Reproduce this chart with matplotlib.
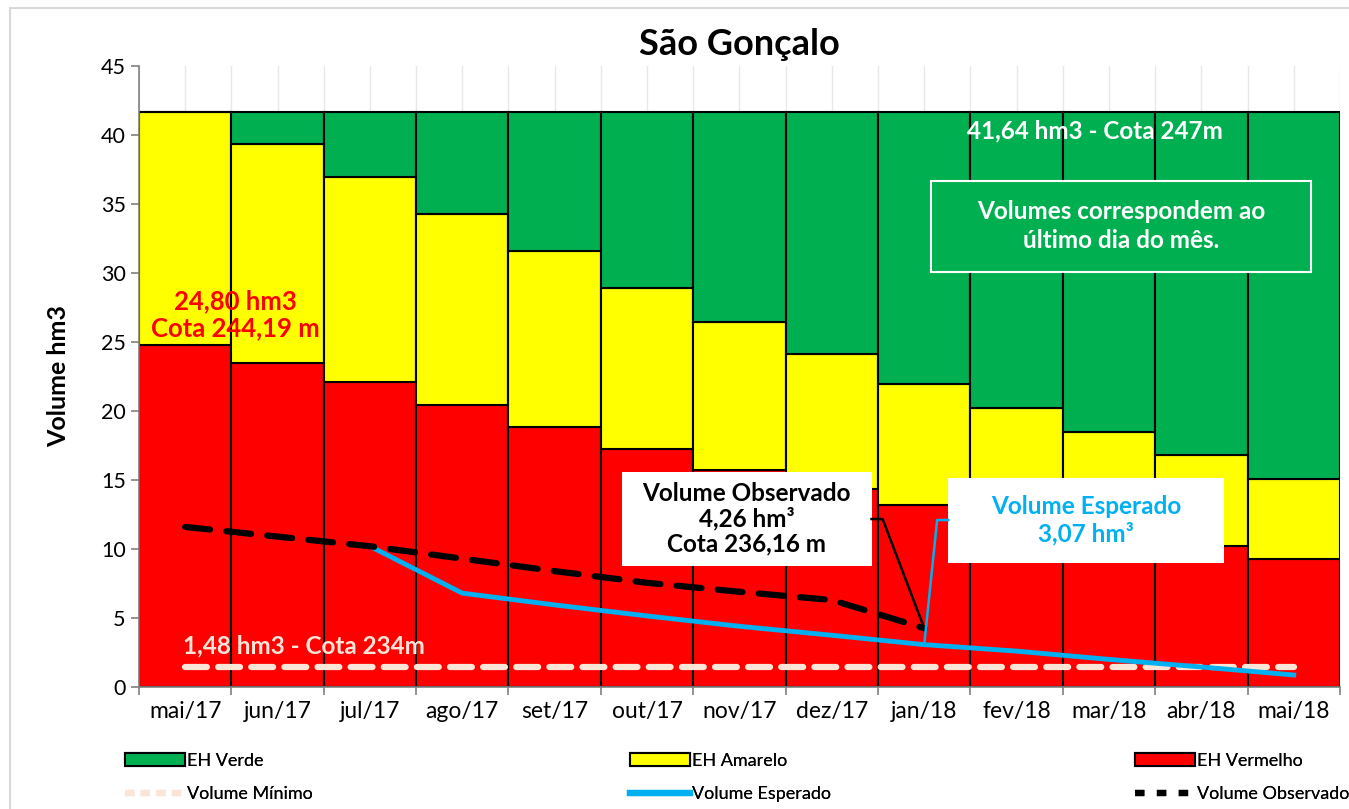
import numpy as np
import matplotlib
matplotlib.use("Agg")
import matplotlib.pyplot as plt
from matplotlib.patches import Patch, Rectangle
from matplotlib.lines import Line2D

plt.rcParams['font.family'] = ['Lato', 'DejaVu Sans']

meses = ['mai/17', 'jun/17', 'jul/17', 'ago/17', 'set/17', 'out/17', 'nov/17',
         'dez/17', 'jan/18', 'fev/18', 'mar/18', 'abr/18', 'mai/18']
eh_vermelho = [24.80, 23.45, 22.10, 20.40, 18.85, 17.25, 15.70, 14.35, 13.20, 12.10, 11.10, 10.25, 9.30]
eh_amarelo_topo = [41.64, 39.35, 36.95, 34.25, 31.60, 28.95, 26.45, 24.10, 21.95, 20.20, 18.45, 16.80, 15.05]
volume_max = 41.64
volume_minimo = [1.48] * 13
volume_esperado = [np.nan, np.nan, 10.20, 6.80, 5.95, 5.15, 4.40, 3.75, 3.07, 2.60, 2.00, 1.45, 0.87]
volume_observado = [11.60, 10.90, 10.20, 9.30, 8.40, 7.55, 6.90, 6.30, 4.26,
                    np.nan, np.nan, np.nan, np.nan]

verde = '#00B050'
amarelo = '#FFFF00'
vermelho = '#FF0000'
azul = '#00B0F0'
creme = '#FBE5D6'

x = np.arange(len(meses))
vermelho_arr = np.array(eh_vermelho)
amarelo_arr = np.array(eh_amarelo_topo) - vermelho_arr
verde_arr = volume_max - np.array(eh_amarelo_topo)

fig = plt.figure(figsize=(13.49, 8.09), dpi=100)
ax = fig.add_axes([0.103, 0.1508, 0.8903, 0.7676])

# moldura da área do gráfico
fig.patches.append(Rectangle((0.0075, -0.01), 1.0, 1.0, transform=fig.transFigure,
                             fill=False, edgecolor='#D9D9D9', lw=1.5))

ax.bar(x, vermelho_arr, width=1, color=vermelho, edgecolor='black', lw=1.5, zorder=2)
ax.bar(x, amarelo_arr, width=1, bottom=vermelho_arr, color=amarelo, edgecolor='black', lw=1.5, zorder=2)
ax.bar(x, verde_arr, width=1, bottom=np.array(eh_amarelo_topo), color=verde, edgecolor='black', lw=1.5, zorder=2)

ax.plot(x, volume_minimo, color=creme, lw=4.5, dashes=(3.5, 1.8), dash_capstyle='round', zorder=4)
ax.plot(x, volume_esperado, color=azul, lw=3.5, zorder=4)
ax.plot(x, volume_observado, color='black', lw=4.5, dashes=(4, 2.6), dash_capstyle='round', zorder=5)

ax.set_xlim(-0.5, len(meses) - 0.5)
ax.set_ylim(0, 45)
ax.set_yticks(range(0, 46, 5))
ax.set_xticks(x)
ax.set_xticklabels(meses, fontsize=16.5)
ax.set_xticks(np.arange(-0.5, len(meses), 1), minor=True)
ax.tick_params(axis='x', which='major', length=0, pad=10)
ax.tick_params(axis='x', which='minor', length=6, color='#808080', width=1.2)
ax.tick_params(axis='y', labelsize=15.5, length=6, color='#808080', width=1.2)
for s in ['top', 'right']:
    ax.spines[s].set_visible(False)
for s in ['left', 'bottom']:
    ax.spines[s].set_color('#808080')
    ax.spines[s].set_linewidth(1.2)

# linhas de grade leves (visíveis acima das barras)
for gx in np.arange(-0.5, len(meses), 0.5):
    ax.axvline(gx, color='#E8E8E8', lw=1, zorder=0)

ax.set_ylabel('Volume hm3', fontsize=18, fontweight='bold', labelpad=22)
ax.set_title('São Gonçalo', fontsize=26, fontweight='bold', pad=8)

ax.text(0.54, 27.0, '24,80 hm3\nCota 244,19 m', color=vermelho, fontsize=18.5, fontweight='bold',
        ha='center', va='center', linespacing=1.15, zorder=6)
ax.text(9.85, 40.3, '41,64 hm3 - Cota 247m', color='white', fontsize=17.5, fontweight='bold',
        ha='center', va='center', zorder=6)
ax.text(-0.02, 3.0, '1,48 hm3 - Cota 234m', color=creme, fontsize=17.5, fontweight='bold',
        ha='left', va='center', zorder=6)

ax.add_patch(Rectangle((8.07, 30.07), 4.12, 6.6, facecolor=verde, edgecolor='white', lw=1.5, zorder=6))
ax.text(10.13, 33.4, 'Volumes correspondem ao\núltimo dia do mês.', color='white', fontsize=17.5,
        fontweight='bold', ha='center', va='center', linespacing=1.3, zorder=7)

ax.add_patch(Rectangle((4.73, 8.77), 2.70, 6.81, facecolor='white', edgecolor='none', zorder=6))
ax.text(6.08, 12.17, 'Volume Observado\n4,26 hm³\nCota 236,16 m', color='black', fontsize=17.5,
        fontweight='bold', ha='center', va='center', linespacing=1.1, zorder=7)
ax.plot([7.43, 7.55, 8.0], [12.17, 12.17, 4.26], color='black', lw=1.8, zorder=6)

ax.add_patch(Rectangle((8.26, 8.99), 2.99, 6.15, facecolor='white', edgecolor='none', zorder=6))
ax.text(9.75, 12.1, 'Volume Esperado\n3,07 hm³', color=azul, fontsize=17.5,
        fontweight='bold', ha='center', va='center', linespacing=1.2, zorder=7)
ax.plot([8.26, 8.14, 8.0], [12.1, 12.1, 3.07], color=azul, lw=1.8, zorder=6)

colunas = [
    [Patch(facecolor=verde, edgecolor='black', lw=1.5, label='EH Verde'),
     Line2D([], [], color=creme, lw=4.5, dashes=(1.5, 1.0), label='Volume Mínimo')],
    [Patch(facecolor=amarelo, edgecolor='black', lw=1.5, label='EH Amarelo'),
     Line2D([], [], color=azul, lw=4.5, label='Volume Esperado')],
    [Patch(facecolor=vermelho, edgecolor='black', lw=1.5, label='EH Vermelho'),
     Line2D([], [], color='black', lw=4.5, dashes=(1.5, 2.0), label='Volume Observado')],
]
for i, hs in enumerate(colunas):
    leg = fig.legend(handles=hs, loc='upper left', bbox_to_anchor=((125 + 505 * i) / 1349, 1 - 753 / 809),
                     frameon=False, handlelength=3.3, handletextpad=0.15, borderpad=0, borderaxespad=0,
                     prop={'size': 13}, labelspacing=0.95)
    fig.add_artist(leg)

fig.savefig('out.png', dpi=100)
